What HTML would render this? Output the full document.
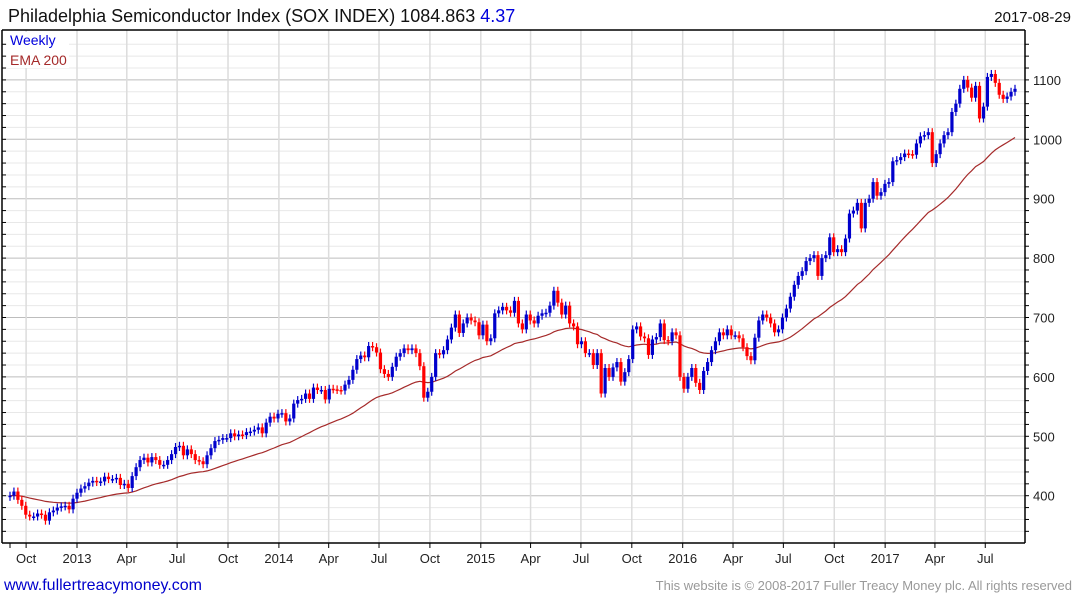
<!DOCTYPE html>
<html><head><meta charset="utf-8">
<style>
html,body{margin:0;padding:0;background:#fff;}
body{width:1075px;height:600px;overflow:hidden;font-family:"Liberation Sans",sans-serif;}
svg text{font-family:"Liberation Sans",sans-serif;}
</style></head>
<body>
<svg id="chart" width="1075" height="600" viewBox="0 0 1075 600">
  <text x="8" y="22" font-size="18" fill="#111">Philadelphia Semiconductor Index (SOX INDEX) 1084.863 <tspan fill="#0000dd">4.37</tspan></text>
  <text x="1071" y="22" font-size="15" fill="#111" text-anchor="end">2017-08-29</text>
  <g id="grid"></g>
  <g id="ema"></g>
  <g id="candles"></g>
  <g id="axes"></g>
  <rect x="7" y="32" width="62" height="36" fill="#fff"/>
  <text x="10" y="45" font-size="14" fill="#0000dd">Weekly</text>
  <text x="10" y="65" font-size="14" fill="#a52a2a">EMA 200</text>
  <text x="4" y="590" font-size="16" fill="#0000cc">www.fullertreacymoney.com</text>
  <text x="1072" y="590" font-size="13" fill="#999" text-anchor="end">This website is © 2008-2017 Fuller Treacy Money plc. All rights reserved</text>
</svg>
<script>
const closes = [
400,407,393,383,368,365,365,370,368,358,
372,375,380,382,383,377,395,405,412,416,
422,425,423,424,432,428,428,430,418,420,
413,433,448,460,464,456,465,460,452,452,
460,470,482,484,468,478,470,460,458,453,
468,480,492,494,497,497,505,500,503,502,
507,508,511,515,505,523,533,530,538,539,
525,530,555,561,563,572,563,582,578,578,
562,580,579,
578,577,587,595,612,630,636,633,652,650,
641,613,605,600,617,634,640,648,645,648,
640,618,565,575,600,640,638,645,663,683,
705,674,690,700,695,692,670,688,660,665,
707,712,718,712,708,728,690,680,705,695,
690,703,707,708,720,745,725,705,720,690,
685,655,660,640,640,620,640,572,615,600,
616,625,592,608,630,680,685,668,665,637,
663,667,690,662,660,675,670,600,
580,600,615,590,578,610,625,645,660,675,
670,680,670,670,665,650,635,628,666,695,
705,700,690,675,680,700,715,735,755,770,
778,795,800,805,770,800,805,835,810,815,
810,833,875,880,
893,850,893,900,928,905,911,925,928,963,
965,970,976,975,974,993,1005,1007,1012,960,
975,993,1007,1012,1046,1060,1085,1100,1087,1070,
1090,1035,1055,1105,1110,1095,1075,1068,1072,1080,1085
];
const firstOpen = 398;
const emaSeed = 400;
const yTicks = [400,500,600,700,800,900,1000,1100];
const xTickLabels = ["Oct","2013","Apr","Jul","Oct","2014","Apr","Jul","Oct","2015","Apr","Jul","Oct","2016","Apr","Jul","Oct","2017","Apr","Jul"];
const xTickDates = ["2012-10-01","2013-01-01","2013-04-01","2013-07-01","2013-10-01","2014-01-01","2014-04-01","2014-07-01","2014-10-01","2015-01-01","2015-04-01","2015-07-01","2015-10-01","2016-01-01","2016-04-01","2016-07-01","2016-10-01","2017-01-01","2017-04-01","2017-07-01"];

const NS="http://www.w3.org/2000/svg";
const L=4, R=1025, T=30, B=543;
function y(v){return 139.3-(v-1000)*0.594;}
function xDate(s){const d=(new Date(s)-new Date("2013-01-01"))/864e5;return 77+d/7*3.872;}
const n=closes.length;
function xi(i){return 10+i*(1015-10)/(n-1);}
function mk(tag,attrs,parent){const e=document.createElementNS(NS,tag);for(const k in attrs)e.setAttribute(k,attrs[k]);parent.appendChild(e);return e;}

const grid=document.getElementById('grid');
for(let v=340;v<=1160;v+=20){
  const yy=y(v); if(yy<T||yy>B)continue;
  const l=mk('line',{x1:L,x2:R,y1:yy,y2:yy,stroke:(v%100===0)?'#bdbdbd':'#e8e8e8','stroke-width':1},grid);
  
  
}
xTickDates.forEach((d,k)=>{
  const xx=xDate(d);
  const l=mk('line',{x1:xx,x2:xx,y1:T,y2:B,stroke:'#dcdcdc','stroke-width':1.5},grid);
  
  
});

const axes=document.getElementById('axes');
mk('line',{x1:L-2,x2:R,y1:T,y2:T,stroke:'#000','stroke-width':1.5},axes);
mk('line',{x1:L-2,x2:R,y1:B,y2:B,stroke:'#000','stroke-width':1.5},axes);
mk('line',{x1:R,x2:R,y1:T,y2:B,stroke:'#000','stroke-width':1.5},axes);
mk('line',{x1:2,x2:2,y1:T,y2:B,stroke:'#000','stroke-width':1.5},axes);
for(let v=340;v<=1160;v+=20){
  const yy=y(v); if(yy<T||yy>B)continue;
  mk('line',{x1:R,x2:R+4,y1:yy,y2:yy,stroke:'#000'},axes);
  mk('line',{x1:2,x2:6,y1:yy,y2:yy,stroke:'#000'},axes);
}
yTicks.forEach(v=>{
  const t=mk('text',{x:1033,y:y(v)+5,'font-size':13,fill:'#222'},axes);
  t.textContent=v;
  
  
});
xTickDates.forEach((d,k)=>{
  const xx=xDate(d);
  mk('line',{x1:xx,x2:xx,y1:B,y2:B+5,stroke:'#000'},axes);
  const t=mk('text',{x:xx,y:563,'font-size':13,fill:'#222','text-anchor':'middle'},axes);
  t.textContent=xTickLabels[k];
  
  
});
mk('line',{x1:10,x2:10,y1:B,y2:B+5,stroke:'#000'},axes);

const alpha=2/41; let e=emaSeed; const pts=[];
closes.forEach((c,i)=>{e=e+alpha*(c-e);pts.push(xi(i).toFixed(1)+','+y(e).toFixed(1));});
const emaLine=mk('polyline',{points:pts.join(' '),fill:'none',stroke:'#a52a2a','stroke-width':1.2},document.getElementById('ema'));



const cg=document.getElementById('candles');
closes.forEach((c,i)=>{
  const o=i===0?firstOpen:closes[i-1];
  const col=c<o?'#ff0000':'#0000cc';
  const xx=xi(i);
  const top=y(Math.max(o,c)), bot=y(Math.min(o,c));
  const w=mk('line',{x1:xx,x2:xx,y1:top-4,y2:bot+4,stroke:col,'stroke-width':1.2},cg);
  
  
  const r=mk('rect',{x:xx-1.6,y:top,width:3.2,height:Math.max(1.5,bot-top),fill:col},cg);
  
  
});
</script>
</body></html>
